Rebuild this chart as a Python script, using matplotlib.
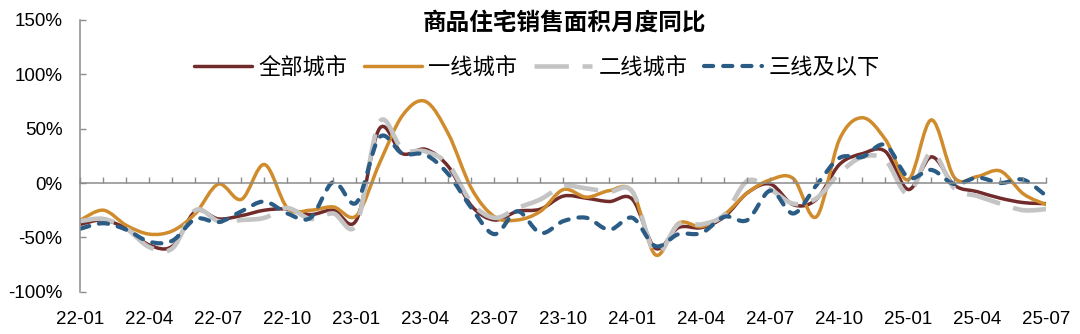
import numpy as np
import matplotlib.pyplot as plt
from matplotlib.path import Path
from matplotlib.patches import PathPatch
from matplotlib.lines import Line2D

plt.rcParams['font.family'] = ['Liberation Sans', 'Noto Sans CJK SC', 'DejaVu Sans']

# 月份 22-01 ... 25-07
months = [f"{y}-{m:02d}" for y in (22, 23, 24, 25) for m in range(1, 13)][:43]

# 同比, %
all_cities = [-38, -34, -42, -57, -58, -26, -33, -30, -25, -24, -29, -25, -34, 50, 27, 31,
              15, -21, -34, -26, -24, -12, -14, -17, -15, -60, -41, -41, -31, -9, -1, -20,
              -15, 17, 27, 29, -6, 24, -2, -8, -14, -18, -19]
tier1 = [-34, -25, -39, -47, -44, -28, -1, -15, 17, -23, -25, -22, -30, 18, 62, 75,
         45, -5, -31, -34, -26, -6, -13, -7, -8, -66, -37, -40, -29, -9, 3, 4,
         -31, 40, 60, 40, 3, 58, 5, 6, 11, -10, -20]
tier2 = [-35, -33, -42, -59, -60, -25, -35, -34, -32, -23, -33, -28, -38, 56, 31, 29,
         17, -18, -32, -23, -15, -3, -5, -8, -8, -64, -38, -38, -29, 2, -6, -19,
         -14, 9, 24, 21, -10, 28, -5, -12, -19, -25, -24]
tier3 = [-42, -37, -43, -54, -53, -33, -36, -26, -17, -28, -32, 1, -18, 42, 27, 26,
         8, -23, -47, -26, -46, -35, -32, -43, -32, -58, -47, -46, -31, -34, -7, -28,
         -2, 23, 24, 35, 5, 12, -1, 5, 0, 3, -12]

names = ['全部城市', '一线城市', '二线城市', '三线及以下']
colors = ['#722B2B', '#D08C2C', '#C4C4C4', '#2B5C85']


def smooth_path(xs, ys):
    # Catmull-Rom -> cubic bezier, like excel "smoothed line"
    p = np.column_stack([xs, ys]).astype(float)
    p = np.vstack([p[0], p, p[-1]])
    verts = [p[1]]
    codes = [Path.MOVETO]
    for i in range(1, len(p) - 2):
        c1 = p[i] + (p[i + 1] - p[i - 1]) / 6
        c2 = p[i + 1] - (p[i + 2] - p[i]) / 6
        verts += [c1, c2, p[i + 1]]
        codes += [Path.CURVE4] * 3
    return Path(verts, codes)


fig = plt.figure(figsize=(10.8, 3.34), dpi=100)
ax = fig.add_axes([0.0745, 0.1263, 0.8944, 0.8144])
x = np.arange(len(months))

styles = [
    dict(lw=2.5, ls='-', cap='butt'),
    dict(lw=2.5, ls='-', cap='butt'),
    dict(lw=3.3, ls=(0, (7.5, 3)), cap='butt'),
    dict(lw=3.0, ls=(0, (2.2, 2.4)), cap='round'),
]
handles = []
for ys, c, st in zip([all_cities, tier1, tier2, tier3], colors, styles):
    patch = PathPatch(smooth_path(x, ys), fill=False, edgecolor=c, lw=st['lw'],
                      linestyle=st['ls'], capstyle=st['cap'], joinstyle='round')
    ax.add_patch(patch)
    handles.append(Line2D([], [], color=c, lw=st['lw'], ls=st['ls'],
                          dash_capstyle=st['cap'], solid_capstyle='round'))

ax.set_xlim(0, 42)
ax.set_ylim(-100, 150)

axis_c = '#8C8C8C'
for s in ['top', 'right']:
    ax.spines[s].set_visible(False)
ax.spines['left'].set_color(axis_c)
ax.spines['left'].set_linewidth(1.1)
ax.spines['bottom'].set_position(('data', 0))
ax.spines['bottom'].set_color(axis_c)
ax.spines['bottom'].set_linewidth(1.1)

ax.set_xticks(x)
ax.tick_params(axis='x', direction='in', length=4, width=1, color=axis_c, labelbottom=False)
ax.set_yticks([-100, -50, 0, 50, 100, 150])
ax.set_yticklabels([f'{v}%' for v in [-100, -50, 0, 50, 100, 150]])
ax.tick_params(axis='y', direction='in', length=4, width=1, color=axis_c, pad=13, labelsize=13.5)

sec = ax.secondary_xaxis('bottom')
sec.spines['bottom'].set_visible(False)
sec.set_xticks(x[::3], months[::3])
sec.tick_params(length=0, pad=14, labelsize=13.5)

fig.text(0.523, 1 - 23 / 334, '商品住宅销售面积月度同比', ha='center', va='center',
         fontsize=17, fontweight='bold')
fig.legend(handles, names, loc='center', bbox_to_anchor=(0.497, 1 - 68 / 334), ncol=4,
           frameon=False, fontsize=16, handlelength=2.6, handletextpad=0.3, columnspacing=0.75)

fig.savefig('out.png', dpi=100)
